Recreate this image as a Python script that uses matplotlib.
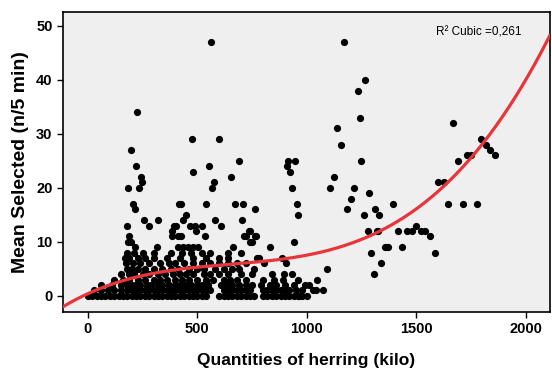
"""Scatter of herring quantity vs. mean birds selected, with cubic fit."""

import matplotlib

matplotlib.use("Agg")
import matplotlib.pyplot as plt
import numpy as np

plt.rcParams["font.family"] = ["Liberation Sans", "DejaVu Sans"]

# sparse points above the dense band (kilo, n/5 min)
sparse_x = [562, 1170, 1267, 1232, 226, 1245, 1668, 1139,
            474, 597, 1795, 1155, 1817, 197, 1839,
            1732, 1752, 1861, 691, 915, 948, 1247, 1691,
            220, 553, 909, 480, 924, 241, 653, 1124,
            247, 574, 1600, 1626,
            184, 232, 568, 932, 1108, 1215,
            1286, 1200,
            205, 418, 426, 538, 670, 708, 953, 1394, 1647, 1712, 1776,
            213, 762, 1185, 1310,
            450, 960, 1262, 1330,
            256, 321, 435, 582, 703,
            178, 277, 392, 403, 467, 490, 521, 609, 1500,
            383, 492, 736, 742, 1279, 1321, 1324, 1415, 1457, 1479, 1521, 1542,
            188, 383, 411, 426, 533, 714, 720, 765, 768, 1565,
            183, 195, 742, 748, 940,
            214, 317, 411, 433, 456, 479, 501, 662, 832, 1355, 1373, 1436,
            1294, 1585, 1339, 1092, 1309, 1047, 994, 1009,
            1030, 1041, 1073, 979, 964]
sparse_y = [47, 47, 40, 38, 34, 33, 32, 31,
            29, 29, 29, 28, 28, 27, 27,
            26, 26, 26, 25, 25, 25, 25, 25,
            24, 24, 24, 23, 23, 22, 22, 22,
            21, 21, 21, 21,
            20, 20, 20, 20, 20, 20,
            19, 18,
            17, 17, 17, 17, 17, 17, 17, 17, 17, 17, 17,
            16, 16, 16, 16,
            15, 15, 15, 15,
            14, 14, 14, 14, 14,
            13, 13, 13, 13, 13, 13, 13, 13, 13,
            12, 12, 12, 12, 12, 12, 12, 12, 12, 12, 12, 12,
            11, 11, 11, 11, 11, 11, 11, 11, 11, 11,
            10, 10, 10, 10, 10,
            9, 9, 9, 9, 9, 9, 9, 9, 9, 9, 9, 9,
            8, 8, 6, 5, 4, 3, 2, 2,
            1, 1, 1, 1, 0]

# dense band near the bottom: x positions for each integer y level
row0_x = [0, 20, 40, 60, 80, 100, 120, 140, 160, 180, 200, 220, 240, 260,
          280, 300, 320, 340, 360, 380, 400, 420, 440, 460, 480, 500, 520,
          540, 600, 620, 640, 660, 680, 700, 720, 740, 760, 800, 820, 840,
          860, 880, 900, 920, 940, 960, 980, 1000]
row1_x = [30, 60, 90, 120, 150, 180, 200, 220, 240, 260, 280, 300, 320, 340,
          360, 380, 400, 420, 440, 460, 480, 500, 520, 540, 560, 620, 640,
          660, 680, 700, 720, 740, 800, 820, 840, 860, 880, 900, 920, 950]
row2_x = [60, 110, 150, 180, 200, 220, 240, 270, 290, 320, 340, 370, 400,
          420, 450, 470, 500, 520, 550, 610, 630, 660, 690, 720, 750, 790,
          830, 860, 900, 940]
row3_x = [120, 160, 190, 230, 260, 300, 330, 360, 400, 430, 460, 500, 540,
          570, 620, 650, 680, 720, 800, 850, 890, 960]
row4_x = [150, 190, 210, 250, 280, 320, 350, 390, 420, 450, 480, 530, 560,
          600, 640, 700, 750, 842, 894, 932]
row5_x = [180, 200, 230, 260, 300, 340, 380, 410, 460, 500, 530, 580, 620,
          660, 690, 760]
row6_x = [172, 205, 240, 280, 330, 370, 400, 440, 480, 520, 560, 600, 640,
          680, 720, 805, 903]
row7_x = [171, 189, 230, 262, 300, 360, 420, 480, 540, 600, 640, 773, 782,
          885]
row8_x = [180, 210, 250, 300, 380, 430, 470, 520, 560, 640, 700]

# cubic fit, highest power first
cubic_coefs = [12.01e-9, -23.36e-6, 18.48e-3, 0.4]
r2_label = "R\u00b2 Cubic =0,261"

rows = [row0_x, row1_x, row2_x, row3_x, row4_x, row5_x, row6_x, row7_x, row8_x]
herring = list(sparse_x)
selected = list(sparse_y)
for level, xs in enumerate(rows):
    herring += xs
    selected += [level] * len(xs)

fig = plt.figure(figsize=(5.52, 3.71), dpi=100)
ax = fig.add_axes([0.114, 0.159, 0.882, 0.809])
ax.set_facecolor("#efefef")

ax.scatter(herring, selected, s=27, color="black", linewidths=0, zorder=2)

xlim = (-114, 2110)
curve_x = np.linspace(xlim[0], xlim[1], 300)
ax.plot(curve_x, np.polyval(cubic_coefs, curve_x), color="#e8353a", lw=2.3,
        zorder=3)

ax.set_xlim(*xlim)
ax.set_ylim(-3, 52.6)
ax.set_xticks([0, 500, 1000, 1500, 2000])
ax.set_yticks([0, 10, 20, 30, 40, 50])
ax.tick_params(direction="out", length=4, width=1, labelsize=10.5)
for label in ax.get_xticklabels() + ax.get_yticklabels():
    label.set_fontweight("bold")
for spine in ax.spines.values():
    spine.set_linewidth(1.2)

ax.set_xlabel("Quantities of herring (kilo)", fontsize=12.5, fontweight="bold",
              labelpad=12)
ax.set_ylabel("Mean Selected (n/5 min)", fontsize=14, fontweight="bold",
              labelpad=5)
ax.text(0.767, 0.932, r2_label, transform=ax.transAxes, fontsize=8.5,
        va="center", ha="left")

fig.savefig("out.png", dpi=100)
